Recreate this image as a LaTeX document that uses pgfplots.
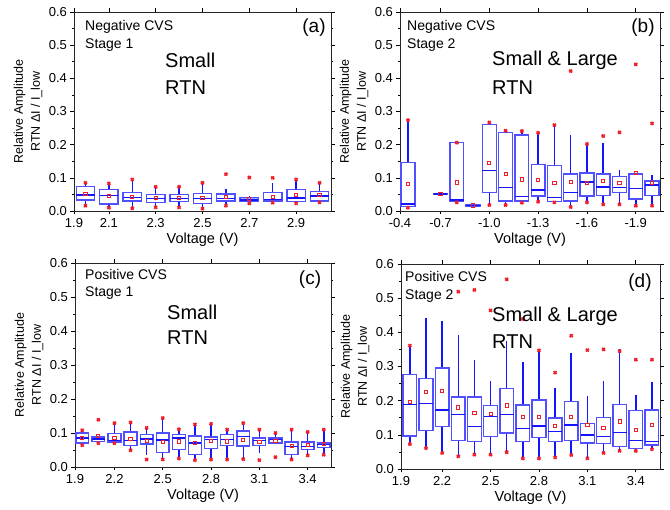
\documentclass[border=0pt]{standalone}
\usepackage{fontspec}
\setmainfont{Liberation Sans}
\usepackage{pgfplots}
\pgfplotsset{compat=1.18}
\usepgfplotslibrary{statistics}

\definecolor{boxblue}{RGB}{80,80,255}
\definecolor{lineblue}{RGB}{20,20,255}
\definecolor{mkred}{RGB}{240,30,40}

% one box: position, lower whisker, q1, median, q3, upper whisker
\newcommand{\bx}[6]{\addplot[lineblue, boxplot prepared={draw position=#1, lower whisker=#2,
  lower quartile=#3, median=#4, upper quartile=#5, upper whisker=#6}] coordinates {};}
\newcommand{\bxf}[6]{\addplot[lineblue, boxplot/every box/.append style={fill=boxblue!55},
  boxplot prepared={draw position=#1, lower whisker=#2,
  lower quartile=#3, median=#4, upper quartile=#5, upper whisker=#6}] coordinates {};}

\pgfplotsset{
  panel/.style={
    scale only axis, anchor=south west,
    ymin=0, ymax=0.6,
    ytick={0,0.1,0.2,0.3,0.4,0.5,0.6},
    yticklabels={0.0,0.1,0.2,0.3,0.4,0.5,0.6},
    minor ytick={0.05,0.15,0.25,0.35,0.45,0.55},
    tick align=outside,
    major tick length=3.5pt, minor tick length=2pt,
    tick style={black, line width=0.6pt},
    axis line style={line width=0.9pt, black!85},
    tick label style={font=\fontsize{13}{13}\selectfont},
    /pgf/number format/assume math mode=true,
    xlabel={Voltage (V)},
    ylabel={Relative Amplitude\\RTN ΔI / I\_low},
    every axis x label/.style={at={(axis description cs:0.5,0)}, yshift=-29pt,
      anchor=center, font=\fontsize{14.5}{14.5}\selectfont},
    every axis y label/.style={at={(axis description cs:0,0.5)}, xshift=-46pt,
      rotate=90, anchor=center, align=center, font=\fontsize{12.5}{17}\selectfont},
    boxplot/draw direction=y,
    boxplot/whisker extend=0,
    boxplot/every box/.style={draw=boxblue, line width=1.4pt},
    boxplot/every median/.style={draw=lineblue, line width=1.5pt},
    boxplot/every whisker/.style={draw=lineblue, line width=1.5pt},
  },
  meanmk/.style={color=mkred, only marks, mark=square, mark size=1.6pt,
    mark options={line width=0.9pt}},
  xmk/.style={color=mkred, only marks, mark=x, mark size=2pt,
    mark options={line width=1.7pt}},
}

\begin{document}
\begin{tikzpicture}
\useasboundingbox (0,0) rectangle (670pt,510pt);

% (a) negative CVS, stage 1
\begin{axis}[panel, at={(74pt,299pt)}, width=257pt, height=199pt,
  xmin=1.951, xmax=3.049,
  xtick={1.951,2.1,2.3,2.5,2.7,2.9}, xticklabels={1.9,2.1,2.3,2.5,2.7,2.9},
  boxplot/box extend=0.078]
\bx{2.0}{0.018}{0.033}{0.048}{0.073}{0.083}
\bx{2.1}{0.012}{0.021}{0.046}{0.065}{0.080}
\bx{2.2}{0.010}{0.030}{0.040}{0.055}{0.093}
\bx{2.3}{0.012}{0.025}{0.037}{0.050}{0.072}
\bx{2.4}{0.012}{0.028}{0.038}{0.050}{0.072}
\bx{2.5}{0.008}{0.023}{0.038}{0.053}{0.083}
\bx{2.6}{0.020}{0.030}{0.038}{0.051}{0.065}
\bxf{2.7}{0.026}{0.028}{0.033}{0.041}{0.045}
\bx{2.8}{0.027}{0.030}{0.035}{0.056}{0.085}
\bx{2.9}{0.025}{0.028}{0.039}{0.065}{0.093}
\bx{3.0}{0.028}{0.030}{0.045}{0.058}{0.083}
\addplot[meanmk] coordinates {(2.0,0.051) (2.1,0.046) (2.2,0.043) (2.3,0.039)
  (2.4,0.040) (2.5,0.040) (2.6,0.043) (2.7,0.037) (2.8,0.043) (2.9,0.049) (3.0,0.048)};
\addplot[xmk] coordinates {(2.0,0.085) (2.1,0.083) (2.2,0.095) (2.3,0.073) (2.4,0.073)
  (2.5,0.085) (2.6,0.111) (2.7,0.101) (2.8,0.100) (2.9,0.095) (3.0,0.085)
  (2.0,0.016) (2.1,0.010) (2.2,0.008) (2.3,0.011) (2.4,0.011) (2.5,0.007)
  (2.6,0.016) (2.7,0.023) (2.8,0.025) (2.9,0.023) (3.0,0.026)};
\end{axis}

% (b) negative CVS, stage 2
\begin{axis}[panel, at={(400pt,299pt)}, width=260pt, height=199pt,
  x dir=reverse, xmin=-2.049, xmax=-0.451,
  xtick={-0.451,-0.7,-1.0,-1.3,-1.6,-1.9}, xticklabels={-0.4,-0.7,-1.0,-1.3,-1.6,-1.9},
  boxplot/box extend=0.085]
\bx{-0.5}{0.010}{0.013}{0.021}{0.147}{0.272}
\bxf{-0.7}{0.049}{0.049}{0.051}{0.053}{0.053}
\bx{-0.8}{0.026}{0.028}{0.033}{0.206}{0.206}
\bxf{-0.9}{0.014}{0.014}{0.017}{0.020}{0.020}
\bx{-1.0}{0.018}{0.056}{0.122}{0.261}{0.267}
\bx{-1.1}{0.018}{0.030}{0.071}{0.237}{0.242}
\bx{-1.2}{0.025}{0.030}{0.043}{0.229}{0.241}
\bx{-1.3}{0.028}{0.045}{0.063}{0.141}{0.236}
\bx{-1.4}{0.026}{0.028}{0.041}{0.137}{0.259}
\bx{-1.5}{0.013}{0.030}{0.056}{0.112}{0.229}
\bx{-1.6}{0.026}{0.045}{0.088}{0.114}{0.200}
\bx{-1.7}{0.020}{0.046}{0.073}{0.112}{0.206}
\bx{-1.8}{0.020}{0.056}{0.071}{0.104}{0.124}
\bx{-1.9}{0.016}{0.036}{0.068}{0.112}{0.115}
\bx{-2.0}{0.016}{0.046}{0.078}{0.091}{0.109}
\addplot[meanmk] coordinates {(-0.5,0.081) (-0.7,0.052) (-0.8,0.086) (-0.9,0.017)
  (-1.0,0.146) (-1.1,0.111) (-1.2,0.095) (-1.3,0.093) (-1.4,0.085) (-1.5,0.087)
  (-1.6,0.084) (-1.7,0.090) (-1.8,0.084) (-1.9,0.115) (-2.0,0.085)};
\addplot[xmk] coordinates {(-0.5,0.274) (-0.8,0.206) (-1.0,0.267) (-1.1,0.242)
  (-1.2,0.241) (-1.3,0.236) (-1.4,0.259) (-1.5,0.422) (-1.6,0.202) (-1.7,0.226)
  (-1.8,0.237) (-1.9,0.442) (-2.0,0.264)
  (-0.5,0.010) (-0.8,0.026) (-1.0,0.018) (-1.1,0.018) (-1.2,0.025) (-1.3,0.028)
  (-1.4,0.026) (-1.5,0.012) (-1.6,0.026) (-1.7,0.020) (-1.8,0.020) (-1.9,0.016)
  (-2.0,0.016)};
\end{axis}

% (c) positive CVS, stage 1
\begin{axis}[panel, at={(75pt,43pt)}, width=256pt, height=204pt,
  xmin=1.955, xmax=3.545,
  xtick={1.955,2.2,2.5,2.8,3.1,3.4}, xticklabels={1.9,2.2,2.5,2.8,3.1,3.4},
  boxplot/box extend=0.08]
\bx{2.0}{0.064}{0.070}{0.086}{0.100}{0.108}
\bx{2.1}{0.070}{0.075}{0.083}{0.088}{0.088}
\bx{2.2}{0.070}{0.073}{0.078}{0.098}{0.127}
\bx{2.3}{0.052}{0.064}{0.078}{0.103}{0.129}
\bx{2.4}{0.034}{0.068}{0.083}{0.095}{0.115}
\bx{2.5}{0.022}{0.042}{0.080}{0.100}{0.142}
\bx{2.6}{0.025}{0.052}{0.086}{0.095}{0.111}
\bx{2.7}{0.020}{0.037}{0.070}{0.091}{0.125}
\bx{2.8}{0.022}{0.054}{0.081}{0.088}{0.127}
\bx{2.9}{0.022}{0.064}{0.081}{0.095}{0.110}
\bx{3.0}{0.023}{0.062}{0.090}{0.106}{0.129}
\bx{3.1}{0.041}{0.064}{0.078}{0.085}{0.110}
\bx{3.2}{0.070}{0.070}{0.081}{0.085}{0.100}
\bx{3.3}{0.022}{0.036}{0.061}{0.073}{0.110}
\bx{3.4}{0.034}{0.051}{0.061}{0.073}{0.103}
\bx{3.5}{0.036}{0.057}{0.066}{0.070}{0.110}
\addplot[meanmk] coordinates {(2.0,0.086) (2.1,0.091) (2.2,0.086) (2.3,0.083)
  (2.4,0.076) (2.5,0.073) (2.6,0.075) (2.7,0.070) (2.8,0.076) (2.9,0.075)
  (3.0,0.080) (3.1,0.074) (3.2,0.076) (3.3,0.061) (3.4,0.066) (3.5,0.068)};
\addplot[xmk] coordinates {(2.0,0.108) (2.1,0.139) (2.2,0.129) (2.3,0.131) (2.4,0.115)
  (2.5,0.144) (2.6,0.111) (2.7,0.125) (2.8,0.127) (2.9,0.110) (3.0,0.129) (3.1,0.110)
  (3.2,0.100) (3.3,0.110) (3.4,0.103) (3.5,0.110)
  (2.0,0.064) (2.1,0.070) (2.2,0.070) (2.3,0.049) (2.4,0.022) (2.5,0.022) (2.6,0.025)
  (2.7,0.020) (2.8,0.022) (2.9,0.022) (3.0,0.023) (3.1,0.020) (3.2,0.029) (3.3,0.022)
  (3.4,0.034) (3.5,0.036)};
\end{axis}

% (d) positive CVS, stage 2
\begin{axis}[panel, at={(401pt,41pt)}, width=259pt, height=205pt,
  xmin=1.945, xmax=3.55,
  xtick={1.945,2.2,2.5,2.8,3.1,3.4}, xticklabels={1.9,2.2,2.5,2.8,3.1,3.4},
  boxplot/box extend=0.085]
\bx{2.0}{0.073}{0.097}{0.189}{0.277}{0.361}
\bx{2.1}{0.061}{0.112}{0.192}{0.264}{0.442}
\bx{2.2}{0.047}{0.124}{0.172}{0.296}{0.434}
\bx{2.3}{0.037}{0.084}{0.160}{0.211}{0.393}
\bx{2.4}{0.042}{0.080}{0.124}{0.211}{0.320}
\bx{2.5}{0.042}{0.095}{0.153}{0.186}{0.259}
\bx{2.6}{0.049}{0.105}{0.160}{0.235}{0.374}
\bx{2.7}{0.031}{0.081}{0.119}{0.187}{0.313}
\bx{2.8}{0.031}{0.092}{0.126}{0.202}{0.345}
\bx{2.9}{0.034}{0.081}{0.110}{0.149}{0.236}
\bx{3.0}{0.041}{0.083}{0.129}{0.197}{0.340}
\bx{3.1}{0.031}{0.076}{0.100}{0.133}{0.214}
\bx{3.2}{0.047}{0.075}{0.095}{0.150}{0.257}
\bx{3.3}{0.053}{0.066}{0.107}{0.189}{0.350}
\bx{3.4}{0.053}{0.060}{0.084}{0.172}{0.218}
\bx{3.5}{0.058}{0.070}{0.081}{0.173}{0.254}
\addplot[meanmk] coordinates {(2.0,0.196) (2.1,0.226) (2.2,0.228) (2.3,0.180)
  (2.4,0.165) (2.5,0.160) (2.6,0.186) (2.7,0.152) (2.8,0.152) (2.9,0.126)
  (3.0,0.152) (3.1,0.128) (3.2,0.119) (3.3,0.139) (3.4,0.115) (3.5,0.128)};
\addplot[xmk] coordinates {(2.0,0.361) (2.3,0.519) (2.4,0.524) (2.5,0.464) (2.6,0.555)
  (2.7,0.439) (2.8,0.347) (2.9,0.282) (3.0,0.390) (3.1,0.348) (3.2,0.350) (3.3,0.345)
  (3.4,0.320) (3.5,0.320)
  (2.0,0.073) (2.1,0.061) (2.2,0.047) (2.3,0.037) (2.4,0.042) (2.5,0.042) (2.6,0.049)
  (2.7,0.031) (2.8,0.031) (2.9,0.034) (3.0,0.041) (3.1,0.031) (3.2,0.047) (3.3,0.053)
  (3.4,0.053) (3.5,0.058)};
\end{axis}

% texts inside the panels
\tikzset{small/.style={anchor=west, inner sep=0pt, font=\fontsize{14}{14}\selectfont},
  big/.style={anchor=west, inner sep=0pt, font=\fontsize{20}{20}\selectfont},
  tag/.style={inner sep=0pt, font=\fontsize{19}{19}\selectfont}}
\node[small] at (85pt,483pt) {Negative CVS};
\node[small] at (85pt,465pt) {Stage 1};
\node[tag] at (314pt,482pt) {(a)};
\node[big] at (165pt,450pt) {Small};
\node[big] at (165pt,422pt) {RTN};

\node[small] at (407pt,483pt) {Negative CVS};
\node[small] at (407pt,465pt) {Stage 2};
\node[tag] at (643pt,482pt) {(b)};
\node[big] at (492pt,450pt) {Small \& Large};
\node[big] at (492pt,422pt) {RTN};

\node[small] at (85pt,235pt) {Positive CVS};
\node[small] at (85pt,217pt) {Stage 1};
\node[tag] at (310pt,230pt) {(c)};
\node[big] at (167pt,198pt) {Small};
\node[big] at (167pt,172pt) {RTN};

\node[small] at (405pt,233pt) {Positive CVS};
\node[small] at (405pt,214pt) {Stage 2};
\node[tag] at (640pt,227pt) {(d)};
\node[big] at (492pt,194pt) {Small \& Large};
\node[big] at (492pt,168pt) {RTN};
\end{tikzpicture}
\end{document}
